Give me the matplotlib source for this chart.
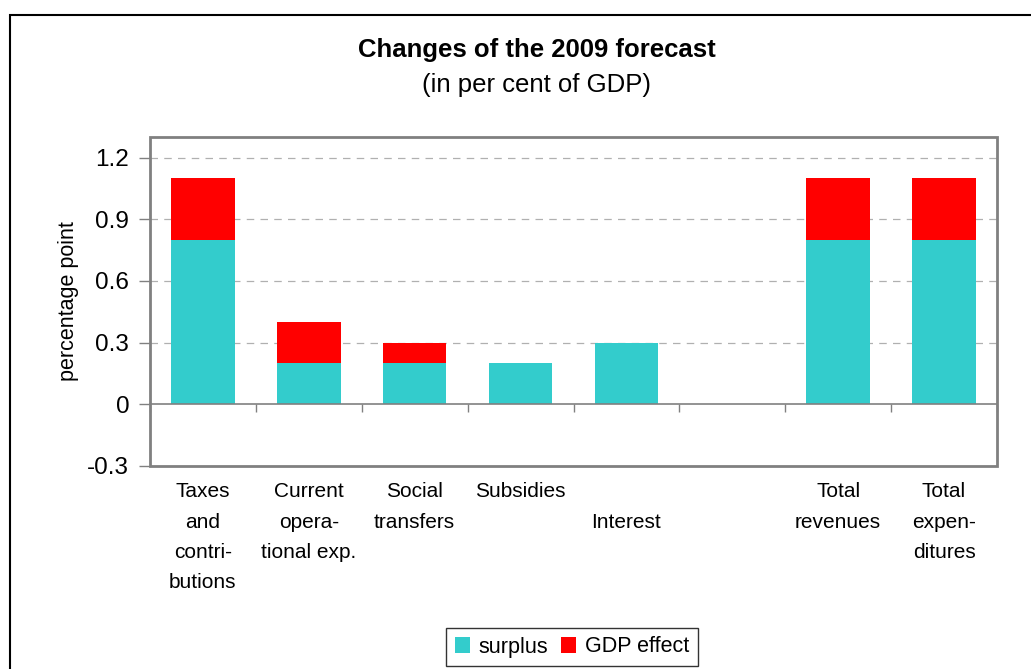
import numpy as np
import matplotlib
matplotlib.use("Agg")
import matplotlib.pyplot as plt
from matplotlib.patches import Rectangle, Patch
import matplotlib.transforms as mtransforms

plt.rcParams['font.family'] = ['Liberation Sans', 'DejaVu Sans']

categories = ["Taxes\nand\ncontri-\nbutions", "Current\nopera-\ntional exp.",
              "Social\ntransfers", "Subsidies", "\nInterest", "",
              "Total\nrevenues", "Total\nexpen-\nditures"]
surplus = [0.8, 0.2, 0.2, 0.2, 0.3, 0.0, 0.8, 0.8]
gdp_effect = [0.3, 0.2, 0.1, 0.0, 0.0, 0.0, 0.3, 0.3]
yticks = [-0.3, 0, 0.3, 0.6, 0.9, 1.2]
ytick_labels = ["-0.3", "0", "0.3", "0.6", "0.9", "1.2"]

teal = "#33CCCC"
red = "#FF0000"
gray = "#808080"

fig = plt.figure(figsize=(10.31, 6.69), dpi=100)
W, H = 1031, 669

# chart area border
fig.patches.append(Rectangle((10 / W, -0.1), 1.2, 1 - 15 / H + 0.1,
                             transform=fig.transFigure, fill=False,
                             edgecolor="black", linewidth=1.5))

ax = fig.add_axes([150 / W, 1 - 466 / H, 847 / W, 329 / H])
x = np.arange(len(categories))
ax.bar(x, surplus, width=0.6, color=teal, zorder=3, label="surplus")
ax.bar(x, gdp_effect, width=0.6, bottom=surplus, color=red, zorder=3,
       label="GDP effect")

ax.set_xlim(-0.5, len(categories) - 0.5)
ax.set_ylim(-0.3, 1.3)
ax.set_yticks(yticks)
ax.set_yticklabels(ytick_labels, fontsize=17.5)
ax.tick_params(axis='y', length=8, color=gray, width=1, pad=7)

for g in yticks[2:]:
    ax.axhline(g, color="#b0b0b0", linestyle=(0, (6, 5)), linewidth=0.9, zorder=1)

# x axis at zero, ticks between categories
ax.spines['bottom'].set_position(('data', 0))
ax.spines['bottom'].set_color(gray)
ax.spines['bottom'].set_linewidth(1.2)
ax.spines['bottom'].set_zorder(4)
ax.set_xticks(np.arange(len(categories) + 1) - 0.5)
ax.set_xticklabels([])
ax.tick_params(axis='x', length=6, color=gray, width=1)

for s in ['left', 'top', 'right']:
    ax.spines[s].set_visible(False)
ax.add_patch(Rectangle((0, 0), 1, 1, transform=ax.transAxes, fill=False,
                       edgecolor=gray, linewidth=2, zorder=5, clip_on=False))

trans = mtransforms.blended_transform_factory(ax.transData, ax.transAxes)
for xi, lab in zip(x, categories):
    ax.text(xi, -0.05, lab, transform=trans, ha="center", va="top",
            fontsize=15, linespacing=1.75, multialignment="center")

ax.set_ylabel("percentage point", fontsize=15.5, labelpad=6)

fig.text(537 / W, 1 - 50 / H, "Changes of the 2009 forecast", ha="center",
         va="center", fontsize=18.5, fontweight="bold")
fig.text(537 / W, 1 - 85 / H, "(in per cent of GDP)", ha="center",
         va="center", fontsize=18.5)

handles = [Patch(facecolor=teal), Patch(facecolor=red)]
leg = fig.legend(handles, ["surplus", "GDP effect"], loc="center",
                 bbox_to_anchor=(572 / W, 1 - 647 / H), ncol=2, fontsize=15.5,
                 frameon=True, fancybox=False, handlelength=0.7,
                 handleheight=0.7, handletextpad=0.4, columnspacing=0.6,
                 borderpad=0.4)
leg.get_frame().set_edgecolor("black")
leg.get_frame().set_linewidth(1)

fig.savefig("out.png", dpi=100)
